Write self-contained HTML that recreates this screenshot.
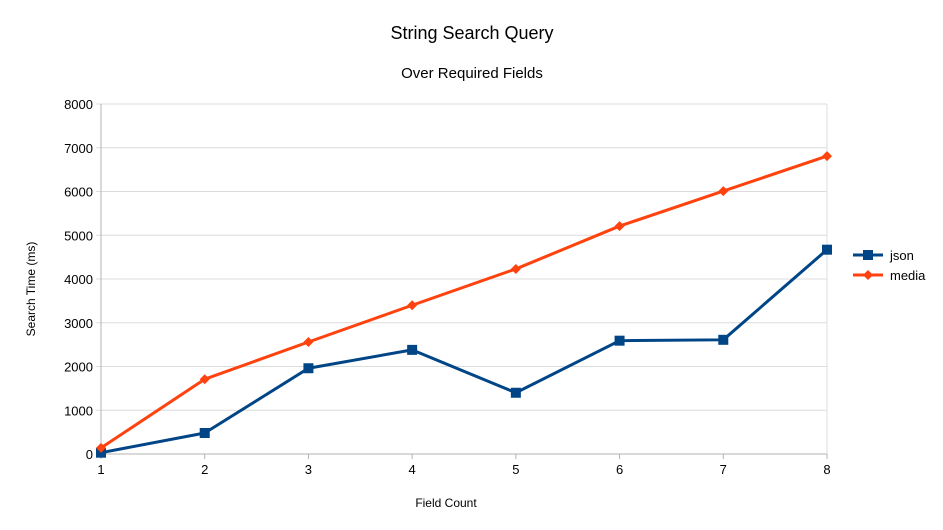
<!DOCTYPE html>
<html><head><meta charset="utf-8"><style>
body{margin:0;background:#fff;}
svg{display:block;font-family:"Liberation Sans",sans-serif;}
</style></head><body>
<svg id="chart" width="943" height="530">
<rect width="943" height="530" fill="#fff"/>
<text x="472" y="39" font-size="18" text-anchor="middle">String Search Query</text>
<text x="472" y="78" font-size="15" text-anchor="middle">Over Required Fields</text>
<text x="446" y="507" font-size="12" text-anchor="middle">Field Count</text>
<text transform="translate(35,289) rotate(-90)" font-size="12" text-anchor="middle">Search Time (ms)</text>
<g id="grid"></g><g id="axes"></g><g id="series"></g><g id="legend"></g>
</svg>
<script>
const categories=[1,2,3,4,5,6,7,8];
const jsonValues=[30,480,1960,2380,1400,2590,2610,4670];
const mediaValues=[140,1710,2560,3400,4230,5210,6010,6810];
const yTicks=[0,1000,2000,3000,4000,5000,6000,7000,8000];
const seriesNames=["json","media"];
const X0=101,X1=827,Y0=454,Y1=104;
const xs=c=>X0+(c-1)*(X1-X0)/7;
const ys=v=>Y0-v*(Y0-Y1)/8000;
const NS="http://www.w3.org/2000/svg";
function mk(t,a,p){const e=document.createElementNS(NS,t);for(const k in a)e.setAttribute(k,a[k]);p.appendChild(e);return e;}
const grid=document.getElementById('grid'),axes=document.getElementById('axes'),ser=document.getElementById('series'),leg=document.getElementById('legend');
yTicks.forEach(v=>{
 const l=mk('line',{x1:X0-5,x2:X1,y1:ys(v),y2:ys(v),stroke:v===0?'#b3b3b3':'#dcdcdc'},grid);
 
 
 const t=mk('text',{x:X0-8,y:ys(v)+5,'font-size':13,'text-anchor':'end'},axes);
 t.textContent=v;
 
 
});
mk('line',{x1:X0,x2:X0,y1:Y1,y2:Y0,stroke:'#b3b3b3'},grid);
mk('line',{x1:X1,x2:X1,y1:Y1,y2:Y0,stroke:'#dcdcdc'},grid);
categories.forEach(c=>{
 mk('line',{x1:xs(c),x2:xs(c),y1:Y0,y2:Y0+5,stroke:'#b3b3b3'},grid);
 const t=mk('text',{x:xs(c),y:Y0+20,'font-size':13,'text-anchor':'middle'},axes);
 t.textContent=c;
 
 
});
function drawSeries(vals,color,shape,name){
 const pl=mk('polyline',{points:vals.map((v,i)=>xs(categories[i])+','+ys(v)).join(' '),fill:'none',stroke:color,'stroke-width':3,'stroke-linejoin':'round'},ser);
 
 
 vals.forEach((v,i)=>{
  const x=xs(categories[i]),y=ys(v);
  let m;
  if(shape==='square')m=mk('rect',{x:x-5,y:y-5,width:10,height:10,fill:color},ser);
  else m=mk('polygon',{points:`${x},${y-5} ${x+5},${y} ${x},${y+5} ${x-5},${y}`,fill:color},ser);
  
  
 });
}
drawSeries(jsonValues,'#004586','square','json');
drawSeries(mediaValues,'#ff420e','diamond','media');
[['#004586','square',255],['#ff420e','diamond',275]].forEach((s,i)=>{
 const y=s[2];
 mk('line',{x1:853,x2:883,y1:y,y2:y,stroke:s[0],'stroke-width':3},leg);
 if(s[1]==='square')mk('rect',{x:863,y:y-5,width:10,height:10,fill:s[0]},leg);
 else mk('polygon',{points:`868,${y-5} 873,${y} 868,${y+5} 863,${y}`,fill:s[0]},leg);
 const t=mk('text',{x:890,y:y+5,'font-size':13},leg);
 t.textContent=seriesNames[i];
 
 
});
</script>
</body></html>
